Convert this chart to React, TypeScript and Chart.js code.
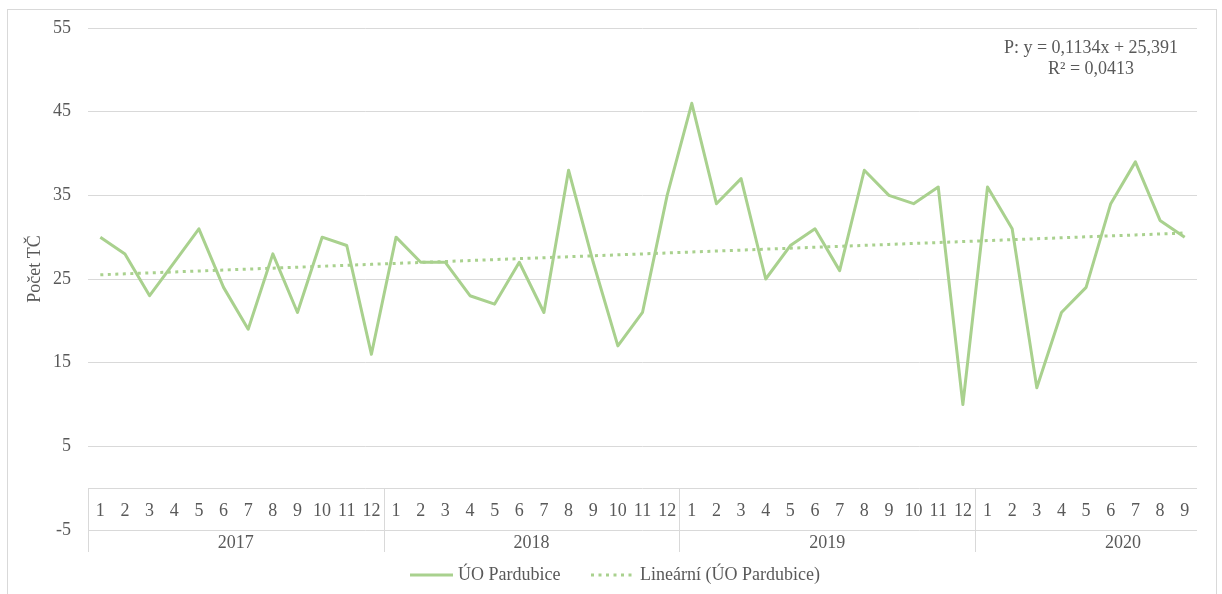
import React, { useEffect, useRef } from "react";
import { Chart, registerables } from "chart.js";

Chart.register(...registerables);

// ---- data ----
const years = ["2017", "2018", "2019", "2020"];
const months2017 = ["1", "2", "3", "4", "5", "6", "7", "8", "9", "10", "11", "12"];
const months2018 = ["1", "2", "3", "4", "5", "6", "7", "8", "9", "10", "11", "12"];
const months2019 = ["1", "2", "3", "4", "5", "6", "7", "8", "9", "10", "11", "12"];
const months2020 = ["1", "2", "3", "4", "5", "6", "7", "8", "9"];
const monthGroups = [months2017, months2018, months2019, months2020];

const values2017 = [30, 28, 23, 27, 31, 24, 19, 28, 21, 30, 29, 16];
const values2018 = [30, 27, 27, 23, 22, 27, 21, 38, 27, 17, 21, 35];
const values2019 = [46, 34, 37, 25, 29, 31, 26, 38, 35, 34, 36, 10];
const values2020 = [36, 31, 12, 21, 24, 34, 39, 32, 30];

const seriesName = "ÚO Pardubice";
const trendName = "Lineární (ÚO Pardubice)";
const trendSlope = 0.1134;
const trendIntercept = 25.391;
const equationText = "P: y = 0,1134x + 25,391";
const r2Text = "R² = 0,0413";
const yTitle = "Počet TČ";
const yMin = -5;
const yMax = 55;
const yStep = 10;

const values = [...values2017, ...values2018, ...values2019, ...values2020];
const categories: string[] = [];
monthGroups.forEach((g, gi) => g.forEach((m) => categories.push(years[gi] + "-" + m)));
const trendValues = values.map((_, i) => trendIntercept + trendSlope * (i + 1));

const GREEN = "#A9D18E";
const TEXT = "#595959";
const GRID = "#D9D9D9";
const FONT = "'Liberation Serif', 'Times New Roman', serif";

const decorPlugin = {
  id: "decor",
  beforeDatasetsDraw(chart: any) {
    const { ctx, chartArea, scales } = chart;
    const y0 = Math.round(scales.y.getPixelForValue(0)) + 0.5;
    ctx.save();
    ctx.strokeStyle = GRID;
    ctx.lineWidth = 1;
    ctx.beginPath();
    ctx.moveTo(chartArea.left, y0);
    ctx.lineTo(chartArea.right, y0);
    ctx.stroke();
    ctx.restore();
  },
  afterDraw(chart: any) {
    const { ctx, chartArea, scales } = chart;
    const xs = scales.x;
    const y0 = Math.round(scales.y.getPixelForValue(0)) + 0.5;
    const n = categories.length;
    const catW = (chartArea.right - chartArea.left) / n;
    const sepBottom = 552;
    ctx.save();
    // outer border
    ctx.strokeStyle = GRID;
    ctx.lineWidth = 1;
    ctx.strokeRect(7.5, 9.5, 1209, 620);

    // category table lines
    ctx.beginPath();
    let start = 0;
    const starts: number[] = [];
    monthGroups.forEach((g) => {
      starts.push(start);
      const x = Math.round(chartArea.left + start * catW) + 0.5;
      ctx.moveTo(x, y0);
      ctx.lineTo(x, sepBottom);
      start += g.length;
    });
    ctx.stroke();

    // month labels
    ctx.fillStyle = TEXT;
    ctx.font = `18px ${FONT}`;
    ctx.textAlign = "center";
    ctx.textBaseline = "alphabetic";
    let idx = 0;
    monthGroups.forEach((g) => {
      g.forEach((m) => {
        ctx.fillText(m, xs.getPixelForValue(idx), 516);
        idx++;
      });
    });
    // year labels
    years.forEach((yr, gi) => {
      const cx = chartArea.left + (starts[gi] + 6) * catW;
      ctx.fillText(yr, cx, 548);
    });

    // equation
    ctx.fillText(equationText, 1091, 53);
    ctx.fillText(r2Text, 1091, 74);

    // y title
    ctx.save();
    ctx.translate(40, 269);
    ctx.rotate(-Math.PI / 2);
    ctx.textAlign = "center";
    ctx.fillText(yTitle, 0, 0);
    ctx.restore();

    // legend
    ctx.strokeStyle = GREEN;
    ctx.lineWidth = 3;
    ctx.beginPath();
    ctx.moveTo(410, 575);
    ctx.lineTo(453, 575);
    ctx.stroke();
    ctx.setLineDash([3, 4.5]);
    ctx.beginPath();
    ctx.moveTo(591, 575);
    ctx.lineTo(635, 575);
    ctx.stroke();
    ctx.setLineDash([]);
    ctx.textAlign = "left";
    ctx.fillText(seriesName, 458, 580);
    ctx.fillText(trendName, 640, 580);
    ctx.restore();
  },
};

export default function App() {
  const ref = useRef<HTMLCanvasElement | null>(null);
  useEffect(() => {
    if (!ref.current) return;
    const chart = new Chart(ref.current, {
      type: "line",
      data: {
        labels: categories,
        datasets: [
          {
            label: seriesName,
            data: values,
            borderColor: GREEN,
            backgroundColor: GREEN,
            borderWidth: 3,
            borderJoinStyle: "round",
            pointRadius: 0,
            tension: 0,
            fill: false,
          },
          {
            label: trendName,
            data: trendValues,
            borderColor: GREEN,
            backgroundColor: GREEN,
            borderWidth: 3,
            borderDash: [3, 4.5],
            pointRadius: 0,
            tension: 0,
            fill: false,
          },
        ],
      },
      options: {
        responsive: false,
        animation: false,
        devicePixelRatio: 1,
        layout: { padding: { left: 0, right: 25, top: 28, bottom: 64 } },
        plugins: {
          legend: { display: false },
          title: { display: false },
          tooltip: { enabled: false },
        },
        scales: {
          x: { type: "category", offset: true, display: false },
          y: {
            min: yMin,
            max: yMax,
            border: { display: false },
            grid: { color: GRID, lineWidth: 1, drawTicks: false },
            ticks: {
              stepSize: yStep,
              color: TEXT,
              padding: 17,
              font: { family: FONT, size: 18 },
            },
            afterFit(scale: any) {
              scale.width = 88;
            },
          },
        },
      },
      plugins: [decorPlugin],
    } as any);
    return () => chart.destroy();
  }, []);
  return (
    <div style={{ position: "fixed", left: 0, top: 0, width: 1222, height: 594, background: "#fff" }}>
      <canvas ref={ref} width={1222} height={594} style={{ display: "block", width: 1222, height: 594 }} />
    </div>
  );
}
